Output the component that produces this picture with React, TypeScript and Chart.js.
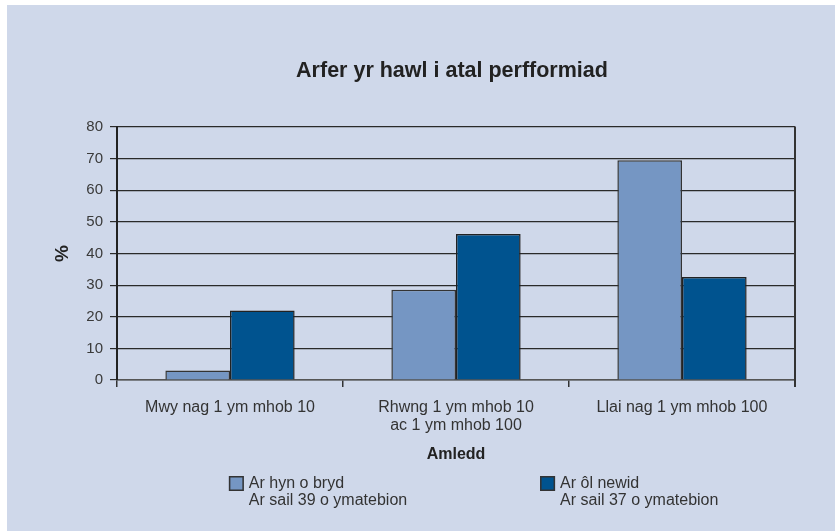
import React, { useEffect, useRef } from "react";
import { Chart, registerables } from "chart.js";

Chart.register(...registerables);

const chartTitle = "Arfer yr hawl i atal perfformiad";
const categories: (string | string[])[] = [
  "Mwy nag 1 ym mhob 10",
  ["Rhwng 1 ym mhob 10", "ac 1 ym mhob 100"],
  "Llai nag 1 ym mhob 100",
];
const seriesNames = ["Ar hyn o bryd", "Ar ôl newid"];
const seriesNotes = ["Ar sail 39 o ymatebion", "Ar sail 37 o ymatebion"];
const beforeValues = [3, 28.5, 69.5];
const afterValues = [22, 46.2, 32.6];
const seriesColors = ["#7596C3", "#00538F"];
const yTicks = [0, 10, 20, 30, 40, 50, 60, 70, 80];
const xAxisTitle = "Amledd";
const yAxisTitle = "%";

const FONT = "'Liberation Sans', Arial, Helvetica, sans-serif";
const BG = "#CFD8EA";

export default function App() {
  const ref = useRef<HTMLCanvasElement | null>(null);

  useEffect(() => {
    if (!ref.current) return;

    const overlay = {
      id: "overlay",
      afterDraw(chart: any) {
        const { ctx, chartArea } = chart;
        const { left, right, top, bottom } = chartArea;
        ctx.save();
        // right border
        ctx.strokeStyle = "#333";
        ctx.lineWidth = 2;
        ctx.beginPath();
        ctx.moveTo(right, top - 0.5);
        ctx.lineTo(right, bottom + 7);
        ctx.stroke();
        // title
        ctx.fillStyle = "#222";
        ctx.font = `bold 21.5px ${FONT}`;
        ctx.textAlign = "center";
        ctx.textBaseline = "middle";
        ctx.fillText(chartTitle, (left + right) / 2 - 4, 66);
        // legend
        const w = right - left;
        const positions = [left + 0.165 * w, left + 0.624 * w];
        chart.data.datasets.forEach((ds: any, i: number) => {
          const bx = positions[i];
          const by = 471;
          ctx.fillStyle = ds.backgroundColor;
          ctx.fillRect(bx, by, 15, 15);
          ctx.strokeStyle = "#333";
          ctx.lineWidth = 1.5;
          ctx.strokeRect(bx + 0.75, by + 0.75, 13.5, 13.5);
          ctx.fillStyle = "#333";
          ctx.font = `16px ${FONT}`;
          ctx.textAlign = "left";
          ctx.textBaseline = "middle";
          ctx.fillText(ds.label, bx + 20, 479);
          ctx.fillText(seriesNotes[i], bx + 20, 496);
        });
        ctx.restore();
      },
    };

    const chart = new Chart(ref.current, {
      type: "bar",
      data: {
        labels: categories,
        datasets: [
          {
            label: seriesNames[0],
            data: beforeValues,
            backgroundColor: seriesColors[0],
            borderColor: "#333",
            borderWidth: 1.5,
            categoryPercentage: 0.572,
            barPercentage: 1,
          },
          {
            label: seriesNames[1],
            data: afterValues,
            backgroundColor: seriesColors[1],
            borderColor: "#222",
            borderWidth: 1.5,
            categoryPercentage: 0.572,
            barPercentage: 1,
          },
        ],
      },
      options: {
        responsive: false,
        animation: false,
        devicePixelRatio: 1,
        layout: { padding: { left: 40, right: 40, top: 122, bottom: 66 } },
        plugins: {
          legend: { display: false },
          title: { display: false },
          tooltip: { enabled: false },
        },
        scales: {
          x: {
            afterFit: (s: any) => {
              s.height = 85;
            },
            grid: {
              display: true,
              drawOnChartArea: false,
              drawTicks: true,
              tickLength: 7,
              offset: true,
              color: "#333",
              lineWidth: 1.5,
            },
            border: { display: true, color: "#555", width: 1.5 },
            ticks: {
              padding: 12,
              color: "#333",
              font: { family: FONT, size: 16, lineHeight: 1.1 },
              maxRotation: 0,
              autoSkip: false,
            },
            title: {
              display: true,
              text: xAxisTitle,
              color: "#222",
              font: { family: FONT, size: 16, weight: "bold", lineHeight: 1.0 },
              padding: { top: 0, bottom: 2 },
            },
          },
          y: {
            min: 0,
            max: 80,
            afterFit: (s: any) => {
              s.width = 70;
            },
            afterBuildTicks: (s: any) => {
              s.ticks = yTicks.map((v) => ({ value: v }));
            },
            grid: {
              display: true,
              drawTicks: true,
              tickLength: 7,
              color: "#2a2a2a",
              lineWidth: 1.2,
            },
            border: { display: true, color: "#222", width: 2 },
            ticks: {
              padding: 7,
              color: "#3a3a3a",
              font: { family: FONT, size: 15 },
            },
            title: {
              display: true,
              text: yAxisTitle,
              color: "#222",
              font: { family: FONT, size: 19, weight: "bold", lineHeight: 1.0 },
              padding: { top: 6, bottom: 0 },
            },
          },
        },
      },
      plugins: [overlay],
    });

    return () => chart.destroy();
  }, []);

  return (
    <div
      style={{
        position: "absolute",
        left: 7,
        top: 5,
        width: 828,
        height: 526,
        background: BG,
      }}
    >
      <canvas ref={ref} width={828} height={526} style={{ display: "block" }} />
    </div>
  );
}
